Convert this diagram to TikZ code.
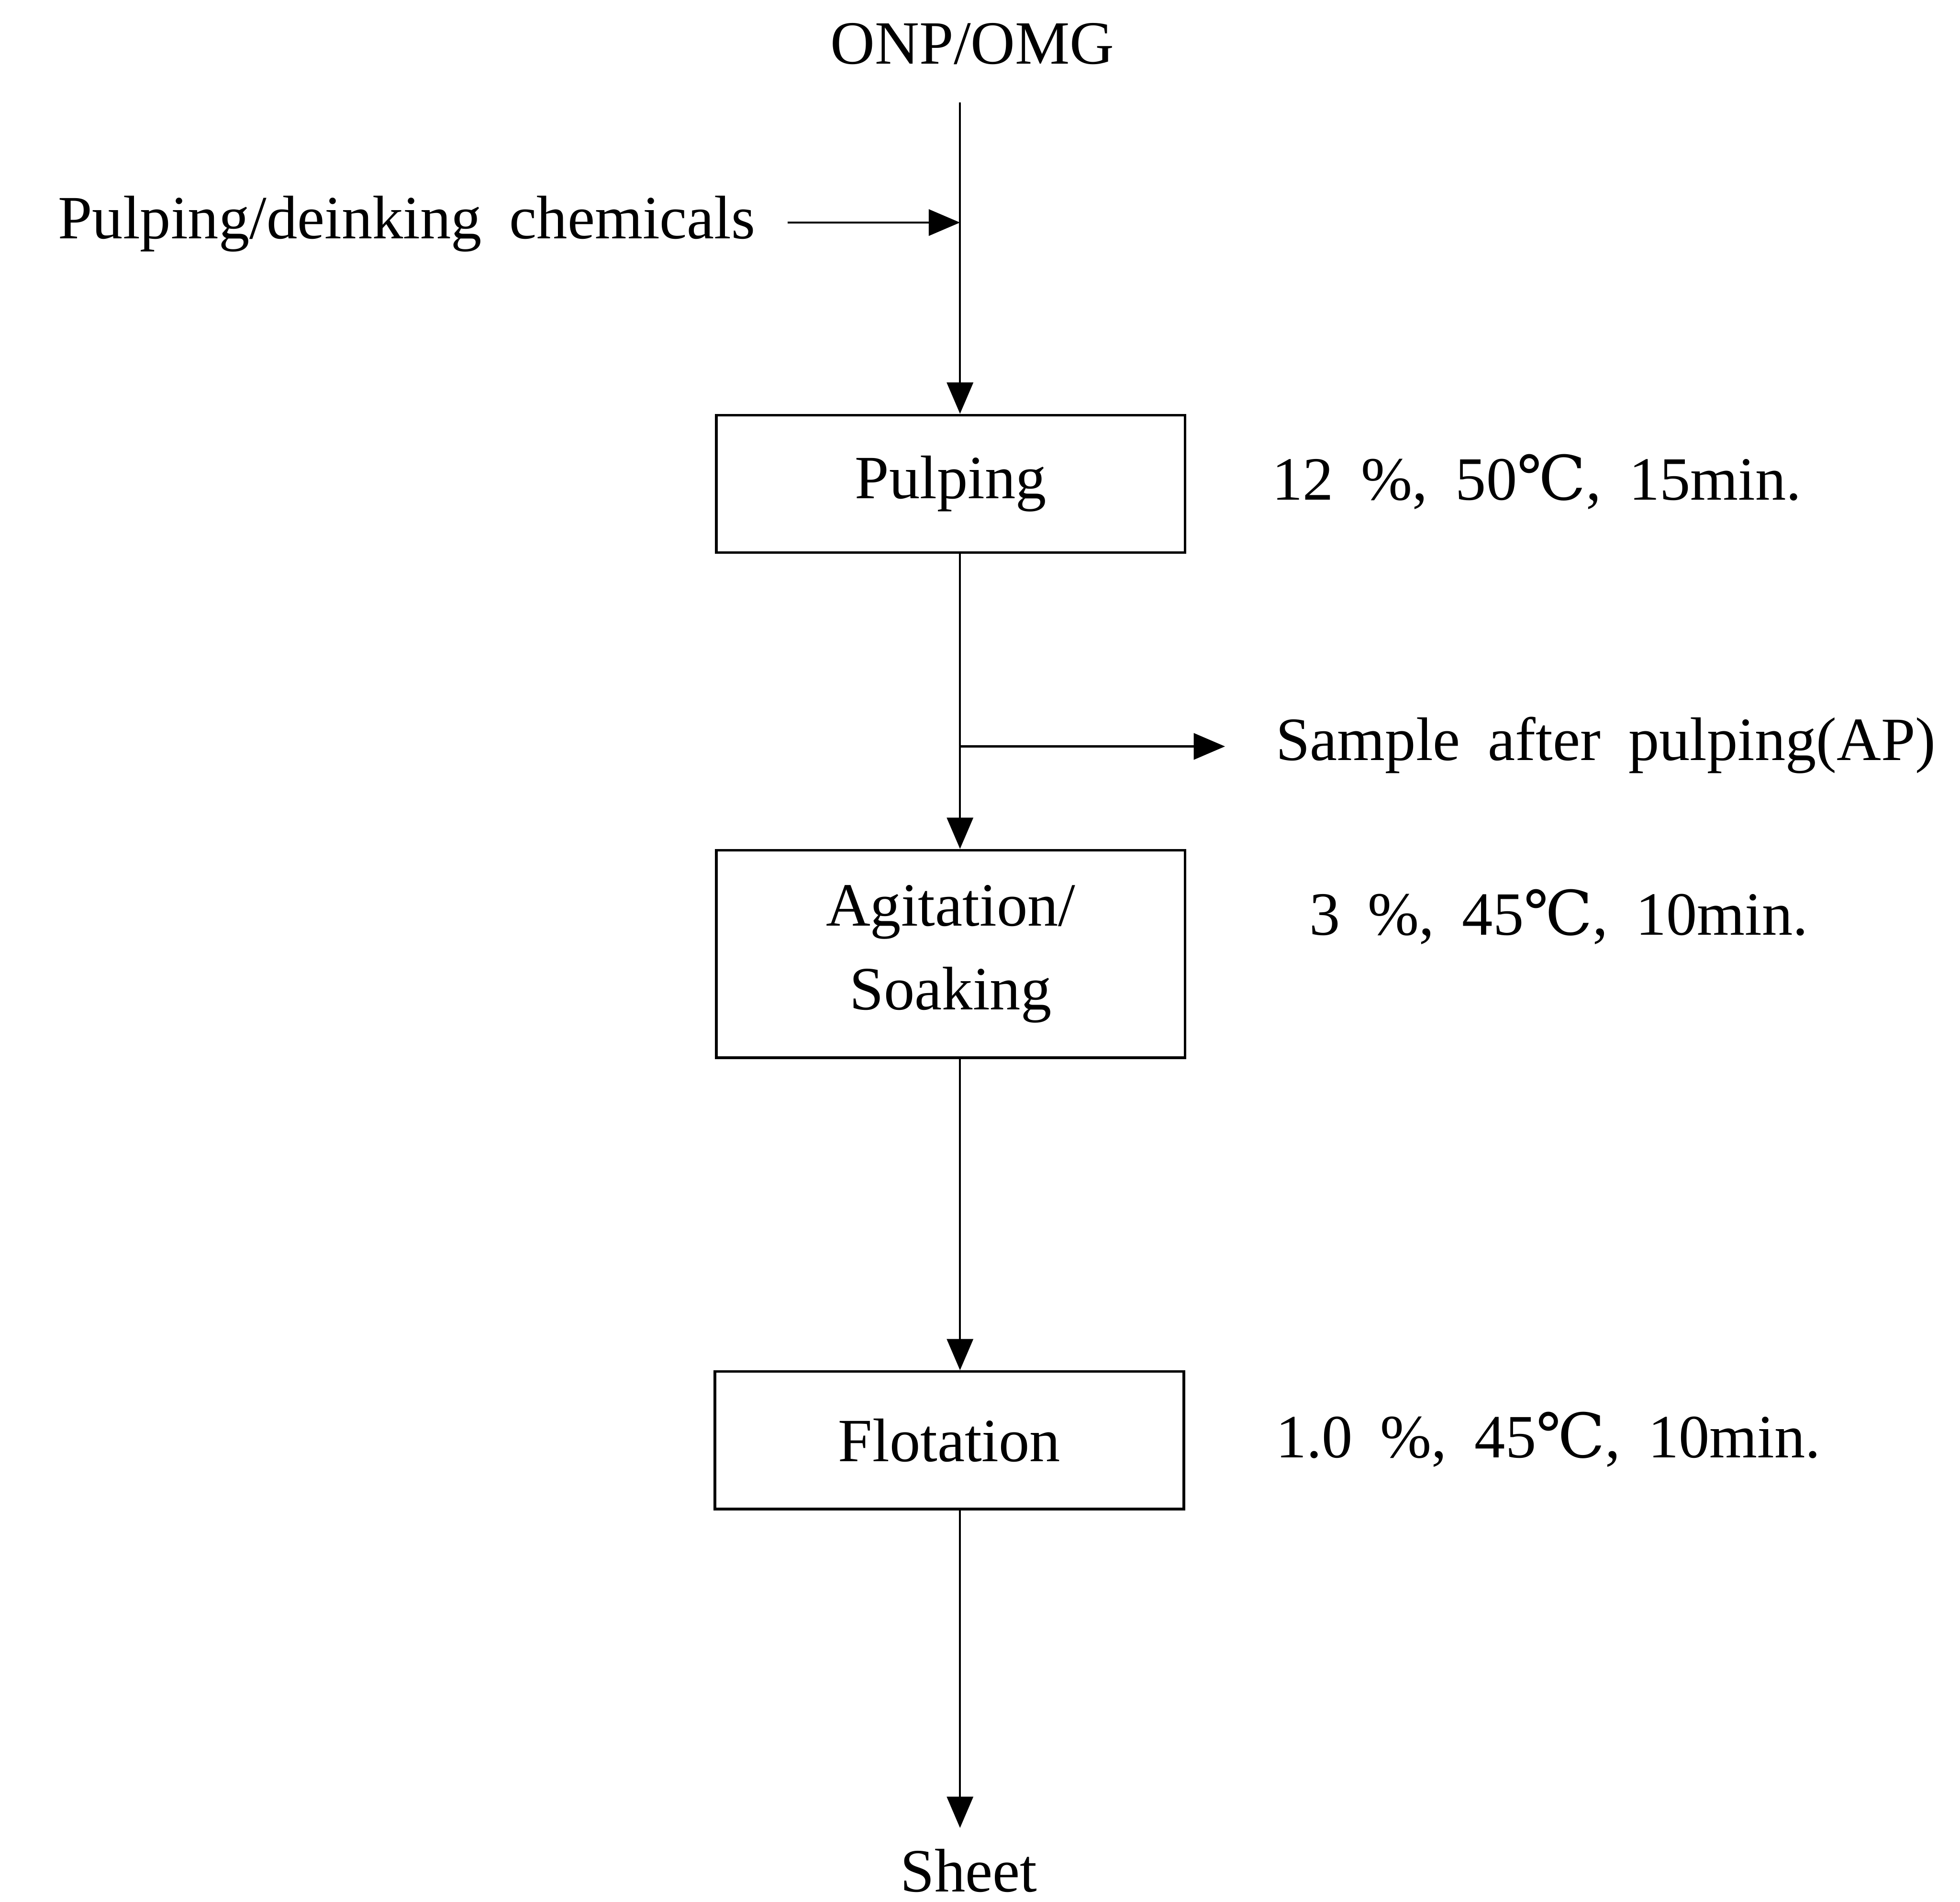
\documentclass[tikz,border=0pt]{standalone}
\usepackage{fontspec}
\setmainfont{Liberation Serif}
\newfontfamily\degfont{DejaVu Serif}
\usepackage{tikz}
\usetikzlibrary{arrows.meta, positioning, calc}

\newcommand{\degC}{{\degfont ℃}}
\newcommand{\widesp}{\spaceskip=0.45em plus 0.1em\relax}

\begin{document}
\begin{tikzpicture}[
    x=1cm, y=1cm,
    every node/.style={font=\fontsize{14}{19}\selectfont},
    procbox/.style={rectangle, draw=black, line width=0.6pt, minimum width=3.75cm, align=center, inner sep=0pt},
    lbl/.style={inner sep=0pt, anchor=base},
    cond/.style={inner sep=0pt, anchor=base west},
    arr/.style={-{Triangle[length=2.5mm, width=2.1mm]}, line width=0.45pt, color=black}
]
\useasboundingbox (0,0) rectangle (15.68,-15.21);

\node[lbl] (onp) at (7.78,-0.51) {ONP/OMG};
\coordinate (feed) at (7.68,-0.82);
\node[lbl, anchor=base east] (chem) at (6.05,-1.91) {\widesp Pulping/deinking chemicals};
\coordinate (mix) at (7.68,-1.78);

\node[procbox, minimum height=1.10cm] (pulp) at (7.605,-3.87) {Pulping};
\node[cond] (c1) at (10.17,-4.00) {\widesp 12 \%, 50\degC, 15min.};

\coordinate (split) at (7.68,-5.97);
\coordinate (aptip) at (9.80,-5.97);
\node[cond] (ap) at (10.20,-6.08) {\widesp Sample after pulping(AP)};

\node[procbox, minimum height=1.66cm] (agit) at (7.605,-7.63) {Agitation/\\Soaking};
\node[cond] (c2) at (10.47,-7.48) {\widesp 3 \%, 45\degC, 10min.};

\node[procbox, minimum height=1.10cm] (flot) at (7.595,-11.52) {Flotation};
\node[cond] (c3) at (10.20,-11.66) {\widesp 1.0 \%, 45\degC, 10min.};

\coordinate (out) at (7.68,-14.62);
\node[lbl] (sheet) at (7.75,-15.13) {Sheet};

% main line
\draw[arr] (feed) -- (feed |- pulp.north);
\draw[arr, shorten <=2.5mm] (chem.east |- mix) -- (mix);
\draw[arr] (feed |- pulp.south) -- (feed |- agit.north);
\draw[arr] (split) -- (aptip);
\draw[arr] (feed |- agit.south) -- (feed |- flot.north);
\draw[arr] (feed |- flot.south) -- (out);

\end{tikzpicture}
\end{document}
